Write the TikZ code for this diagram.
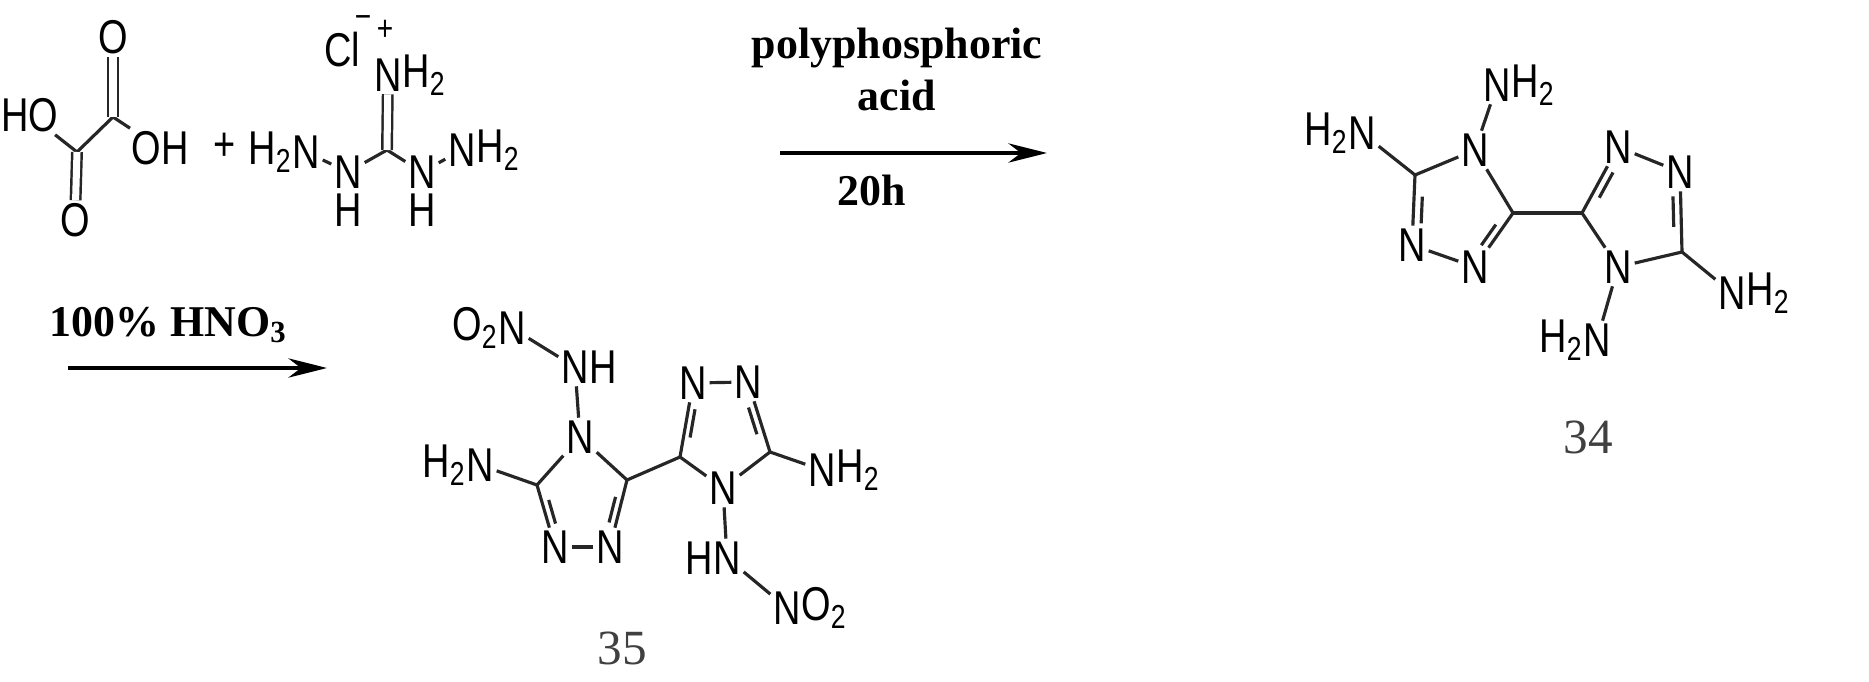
\documentclass[tikz,border=0pt]{standalone}
\usepackage{fontspec}
\setmainfont{Liberation Sans}[FakeStretch=0.8]
\newfontfamily\serifb{Liberation Serif}
\usetikzlibrary{arrows.meta,calc}
\tikzset{
  bond/.style={line width=1.8pt,black!85},
  atm/.style={inner sep=1.5pt,font=\fontsize{27}{30}\selectfont},
  lab/.style={inner sep=0pt,font=\fontsize{27}{30}\selectfont},
  every label/.style={label distance=-1.5pt},
  cond/.style={font=\serifb\bfseries\fontsize{25}{28}\selectfont},
  num/.style={font=\serifb\fontsize{28}{30}\selectfont,black!75},
  rxn/.style={line width=1.8pt,-{Stealth[length=22pt,width=11pt]}}
}
\newcommand\dbond[3]{\draw[bond] (#1) -- (#2); \draw[bond] ($(#1)!0.27!(#2)!0.17!(#3)$) -- ($(#2)!0.27!(#1)!0.17!(#3)$);}
\begin{document}
\begin{tikzpicture}[x=0.02cm,y=-0.02cm]
\useasboundingbox (0,0) rectangle (1869,682);
% oxalic acid
\node[atm] (ho) at (30,115) {HO};
\coordinate (c1) at (77,152);
\coordinate (c2) at (113,117);
\node[atm] (oh) at (160,148) {OH};
\node[atm] (ot) at (113,37) {O};
\node[atm] (ob) at (75,220) {O};
\draw[bond] (ho) -- (c1) -- (c2) -- (oh);
\draw[bond,double,double distance=4pt,line width=1.4pt] (c2) -- (ot);
\draw[bond,double,double distance=4pt,line width=1.4pt] (c1) -- (ob);
\node[lab] (plus) at (225,147) {+};
% guanidine
\node[lab] (cl) at (342,50) {Cl};
\node[lab,font=\fontsize{20}{22}\selectfont] (mn) at (363,22) {\textminus};
\node[lab,font=\fontsize{20}{22}\selectfont] (pl) at (385,30) {+};
\node[atm,label={[lab]0:H\textsubscript{2}}] (gn1) at (388,75) {N};
\coordinate (gc) at (387,150);
\node[atm,label={[lab,label distance=1pt]-90:H}] (gn2) at (348,172) {N};
\node[atm,label={[lab,label distance=1pt]-90:H}] (gn3) at (422,172) {N};
\node[atm,label={[lab]180:H\textsubscript{2}}] (gn4) at (306,152) {N};
\node[atm,label={[lab]0:H\textsubscript{2}}] (gn5) at (462,150) {N};
\draw[bond] (gn4) -- (gn2) -- (gc) -- (gn3) -- (gn5);
\draw[bond,double,double distance=4pt,line width=1.4pt] (gc) -- (gn1);
% arrow 1
\coordinate (a1s) at (780,153); \coordinate (a1e) at (1047,153);
\draw[rxn] (a1s) -- (a1e);
\node[cond] (t1) at (897,48) {polyphosphoric};
\node[cond] (t2) at (897,95) {acid};
\node[cond] (t3) at (872,190) {20h};
% compound 34
\coordinate (ca) at (1462,210); \coordinate (cb) at (1636,210);
\node[atm,label={[lab]0:H\textsubscript{2}}] (a1) at (1497,85) {N};
\node[atm] (a2) at (1475,150) {N};
\coordinate (a3) at (1415,175);
\node[atm,label={[lab]180:H\textsubscript{2}}] (a4) at (1362,133) {N};
\node[atm] (a5) at (1412,245) {N};
\node[atm] (a6) at (1475,267) {N};
\coordinate (a7) at (1513,213);
\coordinate (a8) at (1582,213);
\node[atm] (a9) at (1618,147) {N};
\node[atm] (a10) at (1680,172) {N};
\coordinate (a11) at (1682,252);
\node[atm] (a12) at (1618,267) {N};
\node[atm,label={[lab]0:H\textsubscript{2}}] (a13) at (1732,293) {N};
\node[atm,label={[lab]180:H\textsubscript{2}}] (a14) at (1597,340) {N};
\draw[bond] (a1) -- (a2) -- (a3) -- (a4);
\dbond{a3}{a5}{ca}
\draw[bond] (a5) -- (a6);
\dbond{a6}{a7}{ca}
\draw[bond] (a7) -- (a2);
\draw[bond] (a7) -- (a8);
\dbond{a8}{a9}{cb}
\draw[bond] (a9) -- (a10);
\dbond{a10}{a11}{cb}
\draw[bond] (a11) -- (a12) -- (a8);
\draw[bond] (a11) -- (a13);
\draw[bond] (a12) -- (a14);
\node[num] (n34) at (1588,437) {34};
% arrow 2
\coordinate (a2s) at (68,368); \coordinate (a2e) at (327,368);
\draw[rxn] (a2s) -- (a2e);
\node[cond] (t4) at (168,325) {100\% HNO\textsubscript{3}};
% compound 35
\coordinate (cc) at (582,491); \coordinate (cd) at (722,440);
\node[atm,label={[lab]180:O\textsubscript{2}}] (b1) at (512,328) {N};
\node[atm,label={[lab]0:H}] (b2) at (575,367) {N};
\node[atm] (b3) at (580,437) {N};
\coordinate (b4) at (537,485);
\node[atm,label={[lab]180:H\textsubscript{2}}] (b5) at (480,465) {N};
\node[atm] (b6) at (555,547) {N};
\node[atm] (b7) at (610,547) {N};
\coordinate (b8) at (627,480);
\coordinate (b9) at (680,457);
\node[atm] (b10) at (693,383) {N};
\node[atm] (b11) at (748,382) {N};
\coordinate (b12) at (770,452);
\node[atm] (b13) at (723,488) {N};
\node[atm,label={[lab]0:H\textsubscript{2}}] (b14) at (822,470) {N};
\node[atm,label={[lab]180:H}] (b15) at (727,558) {N};
\node[atm,label={[lab]0:O\textsubscript{2}}] (b16) at (787,608) {N};
\draw[bond] (b1) -- (b2) -- (b3) -- (b4) -- (b5);
\dbond{b4}{b6}{cc}
\draw[bond] (b6) -- (b7);
\dbond{b7}{b8}{cc}
\draw[bond] (b8) -- (b3);
\draw[bond] (b8) -- (b9);
\dbond{b9}{b10}{cd}
\draw[bond] (b10) -- (b11);
\dbond{b11}{b12}{cd}
\draw[bond] (b12) -- (b13) -- (b9);
\draw[bond] (b12) -- (b14);
\draw[bond] (b13) -- (b15) -- (b16);
\node[num] (n35) at (622,648) {35};
\end{tikzpicture}
\end{document}
